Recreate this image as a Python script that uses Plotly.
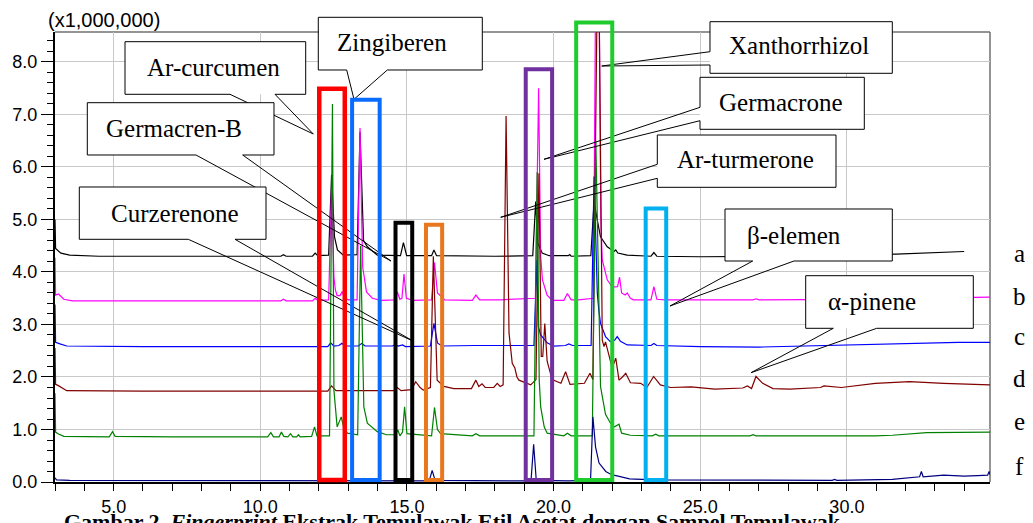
import plotly.graph_objects as go

# ---------------- data (retention time [min], intensity [x1,000,000]) ----------------
X_RANGE = [3.0, 34.88]
Y_RANGE = [0.0, 8.571]
X_TICKS = [5.0, 10.0, 15.0, 20.0, 25.0, 30.0]
Y_TICKS = [0.0, 1.0, 2.0, 3.0, 4.0, 5.0, 6.0, 7.0, 8.0]

TRACE_NAMES = ["a", "b", "c", "d", "e", "f"]
TRACE_COLORS = ["#000000", "#ff00ff", "#0000ff", "#800000", "#008000", "#000080"]

A_POINTS = [(3.0, 5.0), (3.02, 4.45), (3.2, 4.36), (3.5, 4.32), (4.5, 4.30), (7.0, 4.30), (10.0, 4.30),
            (10.7, 4.30), (10.79, 4.33), (10.88, 4.30), (11.78, 4.30), (11.87, 4.36), (11.96, 4.31),
            (12.33, 4.32), (12.43, 5.85), (12.53, 4.67), (12.63, 4.42), (12.83, 4.32), (13.3, 4.33),
            (13.40, 6.67), (13.52, 4.6), (13.65, 4.48), (13.99, 4.32), (14.78, 4.31), (14.88, 4.56),
            (14.99, 4.31), (15.84, 4.31), (15.92, 4.42), (16.01, 4.31), (17.0, 4.30), (18.0, 4.30),
            (19.29, 4.31), (19.39, 5.34), (19.46, 4.55), (19.61, 4.36), (19.85, 4.31), (20.5, 4.31),
            (20.55, 4.33), (20.6, 4.30), (21.27, 4.31), (21.38, 5.34), (21.49, 4.99), (21.60, 4.67),
            (21.83, 4.48), (22.06, 4.39), (22.12, 4.42), (22.19, 4.36), (22.51, 4.32), (23.32, 4.30),
            (23.42, 4.37), (23.52, 4.30), (25.0, 4.29), (28.0, 4.30), (31.68, 4.34), (34.0, 4.39)]

B_POINTS = [(3.0, 4.27), (3.02, 3.56), (3.12, 3.58), (3.3, 3.48), (3.6, 3.45), (6.0, 3.45), (9.0, 3.45),
            (10.7, 3.45), (10.79, 3.48), (10.88, 3.45), (11.78, 3.45), (11.87, 3.50), (11.96, 3.46),
            (12.33, 3.47), (12.43, 5.6), (12.51, 3.9), (12.56, 3.66), (12.62, 3.55), (12.72, 3.55),
            (12.79, 3.63), (12.87, 3.5), (13.02, 3.47), (13.3, 3.47), (13.40, 6.74), (13.49, 4.1),
            (13.62, 3.62), (13.82, 3.5), (14.11, 3.46), (14.58, 3.47), (14.67, 3.62), (14.76, 3.48),
            (14.83, 3.5), (14.90, 3.96), (14.98, 3.5), (15.2, 3.46), (15.84, 3.47), (15.94, 4.18),
            (16.04, 3.6), (16.29, 3.47), (17.23, 3.46), (17.35, 3.56), (17.48, 3.47), (18.17, 3.47),
            (19.38, 3.5), (19.49, 7.5), (19.56, 4.3), (19.62, 3.85), (19.78, 3.56), (19.95, 3.46),
            (20.35, 3.46), (20.47, 3.59), (20.6, 3.47), (20.85, 3.47), (21.36, 3.5), (21.49, 14.0),
            (21.61, 5.0), (21.66, 4.23), (21.83, 3.85), (22.0, 3.71), (22.18, 3.72), (22.25, 3.90),
            (22.32, 3.6), (22.44, 3.56), (22.51, 3.6), (22.62, 3.5), (22.72, 3.47), (23.32, 3.47),
            (23.42, 3.72), (23.52, 3.48), (23.81, 3.47), (26.8, 3.47), (26.9, 3.49), (27.0, 3.47),
            (30.0, 3.48), (34.88, 3.52)]

C_POINTS = [(3.0, 3.38), (3.02, 2.66), (3.17, 2.63), (3.4, 2.59), (6.0, 2.58), (10.0, 2.58), (12.3, 2.58),
            (12.40, 2.65), (12.51, 2.59), (12.68, 2.6), (12.78, 2.64), (12.88, 2.59), (13.34, 2.59),
            (13.46, 2.64), (13.57, 2.59), (14.5, 2.59), (14.6, 2.61), (14.7, 2.59), (14.85, 2.61),
            (14.95, 2.58), (15.8, 2.59), (15.92, 3.02), (16.04, 2.65), (16.19, 2.59), (17.33, 2.6),
            (19.33, 2.6), (19.43, 4.23), (19.48, 2.96), (19.56, 2.8), (19.78, 2.65), (20.0, 2.59),
            (20.4, 2.6), (20.52, 2.63), (20.65, 2.6), (21.28, 2.6), (21.38, 5.82), (21.49, 3.6),
            (21.54, 3.28), (21.60, 3.02), (21.77, 2.77), (21.94, 2.67), (22.08, 2.7), (22.17, 2.77),
            (22.28, 2.68), (22.51, 2.61), (23.32, 2.6), (23.42, 2.64), (23.52, 2.6), (25.0, 2.58),
            (27.0, 2.57), (30.2, 2.61), (32.0, 2.64), (33.8, 2.66), (34.88, 2.66)]

D_POINTS = [(3.0, 2.55), (3.02, 1.86), (3.1, 1.84), (3.4, 1.74), (6.0, 1.73), (10.0, 1.73), (12.3, 1.73),
            (12.43, 1.83), (12.58, 1.74), (14.56, 1.74), (14.67, 1.80), (14.8, 1.74), (15.15, 1.76),
            (15.30, 1.91), (15.45, 1.80), (15.56, 1.75), (15.8, 1.8), (15.9, 4.3), (16.03, 1.94),
            (16.26, 1.82), (16.6, 1.78), (17.2, 1.78), (17.35, 1.94), (17.45, 1.82), (17.56, 1.87),
            (17.67, 1.8), (17.96, 1.8), (18.08, 1.88), (18.18, 1.82), (18.28, 1.85), (18.38, 6.97),
            (18.48, 2.84), (18.59, 2.26), (18.68, 2.17), (18.75, 2.0), (18.82, 1.94), (19.22, 1.85),
            (19.4, 1.95), (19.5, 5.88), (19.58, 2.39), (19.63, 2.39), (19.7, 3.02), (19.78, 2.3),
            (19.95, 1.95), (20.25, 1.88), (20.41, 2.1), (20.56, 1.86), (21.05, 1.88), (21.24, 2.07),
            (21.34, 1.95), (21.52, 11.0), (21.66, 2.7), (21.72, 2.58), (21.77, 2.67), (21.89, 2.39),
            (22.0, 2.17), (22.12, 2.36), (22.23, 1.94), (22.35, 2.0), (22.46, 2.07), (22.62, 1.89),
            (22.97, 1.88), (23.18, 1.8), (23.41, 2.01), (23.64, 1.85), (23.99, 1.80), (24.69, 1.81),
            (25.5, 1.77), (26.45, 1.79), (26.61, 1.83), (26.75, 1.78), (26.9, 2.01), (27.13, 1.88),
            (27.48, 1.78), (28.06, 1.77), (29.1, 1.8), (29.22, 1.83), (29.81, 1.80), (30.97, 1.88),
            (32.14, 1.91), (33.3, 1.88), (34.88, 1.85)]

E_POINTS = [(3.0, 1.69), (3.02, 0.95), (3.1, 0.92), (3.3, 0.87), (4.85, 0.86), (4.96, 0.96), (5.05, 0.87),
            (7.0, 0.86), (10.25, 0.86), (10.36, 0.94), (10.45, 0.86), (10.64, 0.86), (10.72, 0.95),
            (10.8, 0.87), (10.94, 0.86), (11.03, 0.92), (11.11, 0.86), (11.24, 0.86), (11.30, 0.9),
            (11.36, 0.86), (11.75, 0.87), (11.85, 1.05), (11.93, 0.88), (12.36, 0.88), (12.46, 7.2),
            (12.51, 1.75), (12.56, 1.43), (12.62, 1.05), (12.76, 1.24), (12.85, 1.02), (12.97, 0.93),
            (13.32, 0.9), (13.42, 4.5), (13.53, 1.43), (13.65, 1.12), (13.99, 0.96), (14.3, 0.9),
            (14.6, 0.9), (14.69, 0.99), (14.76, 0.88), (14.85, 0.95), (14.92, 1.43), (15.0, 0.92),
            (15.84, 0.88), (15.94, 1.42), (16.04, 1.0), (16.15, 0.92), (17.23, 0.88), (17.35, 0.92),
            (17.48, 0.88), (19.33, 0.88), (19.44, 5.9), (19.51, 1.94), (19.56, 1.43), (19.68, 1.05),
            (19.78, 0.93), (20.35, 0.88), (20.47, 0.93), (20.6, 0.88), (21.32, 0.88), (21.44, 6.5),
            (21.60, 1.82), (21.77, 1.29), (21.94, 1.12), (22.08, 1.05), (22.23, 1.10), (22.32, 0.93),
            (22.62, 0.89), (23.37, 0.88), (23.48, 0.91), (23.59, 0.88), (26.7, 0.88), (26.8, 0.9),
            (26.9, 0.88), (30.97, 0.88), (31.55, 0.89), (32.72, 0.94), (33.89, 0.94), (34.88, 0.95)]

F_POINTS = [(3.0, 0.08), (3.05, 0.04), (3.5, 0.03), (10.0, 0.02), (15.76, 0.02), (15.86, 0.22),
            (15.96, 0.03), (19.23, 0.02), (19.32, 0.72), (19.41, 0.03), (20.5, 0.02), (21.26, 0.03),
            (21.34, 1.24), (21.43, 0.67), (21.55, 0.36), (21.78, 0.2), (22.01, 0.13), (22.13, 0.12),
            (22.59, 0.06), (23.41, 0.04), (26.0, 0.03), (29.5, 0.03), (29.58, 0.05), (29.66, 0.03),
            (31.55, 0.05), (32.14, 0.09), (32.48, 0.1), (32.54, 0.2), (32.6, 0.1), (33.3, 0.13),
            (34.0, 0.11), (34.46, 0.12), (34.8, 0.13), (34.85, 0.2), (34.88, 0.14)]

ALL_POINTS = [A_POINTS, B_POINTS, C_POINTS, D_POINTS, E_POINTS, F_POINTS]

# highlighted retention windows: (t_start, t_end, top intensity, colour)
WINDOWS = [(12.01, 12.88, 7.49, "#ff0000"),
           (13.13, 14.07, 7.28, "#0a6cff"),
           (14.61, 15.18, 4.94, "#000000"),
           (15.65, 16.20, 4.90, "#e8771e"),
           (19.05, 19.95, 7.86, "#7030a0"),
           (20.77, 22.00, 8.75, "#1fcc2e"),
           (23.14, 23.84, 5.21, "#00b0f0")]
WINDOW_BOTTOM = 0.04

# callouts (page pixels): label, box (L, T, R, B), wedge side, wedge bases, tip, text centre
CALLOUTS = [
    ("Ar-curcumen", (125, 41.7, 305.7, 94.3), "bottom", (230, 275), (313.3, 134), (213, 68)),
    ("Zingiberen", (318.3, 17.3, 482.3, 70), "bottom", (346.7, 387.3), (354, 99.3), (392, 42)),
    ("Germacren-B", (87.3, 102.7, 274, 155), "bottom", (196, 242.7), (391, 261), (174, 128)),
    ("Curzerenone", (79.3, 187, 266, 239.3), "bottom", (188.3, 235), (413, 341), (175, 213)),
    ("Xanthorrhizol", (710, 21.7, 892.3, 73.3), "left", (51.7, 65), (601.7, 66), (799, 46)),
    ("Germacrone", (700, 77.3, 864.3, 129.3), "left", (107.3, 120.7), (544, 159.3), (781, 102)),
    ("Ar-turmerone", (657.3, 135, 836, 187.3), "left", (164.3, 178.3), (500.7, 217.3), (745, 159)),
    ("β-elemen", (725, 209, 892.3, 261), "bottom", (752.7, 794), (670, 306), (794, 235)),
    ("α-pinene", (805.7, 275.7, 973.3, 328.3), "bottom", (833.3, 876.7), (751, 372.7), (872, 301)),
]

LABEL_Y = [254, 296, 336, 378, 421, 466]
CAPTION = "<b>Gambar 2. <i>Fingerprint</i> Ekstrak Temulawak Etil Asetat dengan Sampel Temulawak</b>"

# ---------------- layout geometry (page pixels; the page body adds an 8 px offset) ----------------
PAGE_W, PAGE_H, OFF = 1033, 523, 8
W, H = PAGE_W - OFF, PAGE_H - OFF
PL, PR, PT, PB = 55, 990, 32, 482


def px2x(px):
    return (px - PL) / (PR - PL)


def py2y(py):
    return (PB - py) / (PB - PT)


fig = go.Figure()
for pts, color, name in zip(ALL_POINTS, TRACE_COLORS, TRACE_NAMES):
    fig.add_trace(go.Scatter(x=[p[0] for p in pts], y=[p[1] for p in pts], mode="lines", name=name,
                             line=dict(color=color, width=1.2), hoverinfo="skip", showlegend=False))

shapes = []
shapes.append(dict(type="line", xref="paper", yref="paper", x0=0, x1=1, y0=1, y1=1,
                   line=dict(color="#707070", width=1.5), layer="below"))
shapes.append(dict(type="line", xref="paper", yref="paper", x0=1, x1=1, y0=0, y1=1,
                   line=dict(color="#707070", width=1.5), layer="below"))

for label, (L, T, R, B), side, bases, tip, _ in CALLOUTS:
    shapes.append(dict(type="rect", xref="paper", yref="paper", x0=px2x(L), x1=px2x(R),
                       y0=py2y(B), y1=py2y(T), fillcolor="white", line=dict(width=0), layer="above"))
    if side == "bottom":
        pts = [(L, T), (R, T), (R, B), (bases[1], B), tip, (bases[0], B), (L, B), (L, T)]
    else:
        pts = [(L, T), (R, T), (R, B), (L, B), (L, bases[1]), tip, (L, bases[0]), (L, T)]
    path = "M " + " L ".join(f"{px2x(a):.5f},{py2y(b):.5f}" for a, b in pts)
    shapes.append(dict(type="path", xref="paper", yref="paper", path=path,
                       line=dict(color="black", width=1), fillcolor="rgba(0,0,0,0)", layer="above"))

for t0, t1, top, color in WINDOWS:
    shapes.append(dict(type="rect", xref="x", yref="paper", x0=t0, x1=t1,
                       y0=WINDOW_BOTTOM / Y_RANGE[1], y1=top / Y_RANGE[1],
                       line=dict(color=color, width=4.5 if color == "#ff0000" else 4),
                       fillcolor="rgba(0,0,0,0)", layer="above"))

serif = "Liberation Serif, Times New Roman, serif"
annotations = []
for label, _, _, _, _, (cx, cy) in CALLOUTS:
    annotations.append(dict(text=label, xref="paper", yref="paper", x=px2x(cx), y=py2y(cy),
                            xanchor="center", yanchor="middle", showarrow=False,
                            font=dict(family=serif, size=25, color="black")))
for name, ly in zip(TRACE_NAMES, LABEL_Y):
    annotations.append(dict(text=name, xref="paper", yref="paper", x=px2x(1019), y=py2y(ly),
                            xanchor="center", yanchor="middle", showarrow=False,
                            font=dict(family=serif, size=25, color="black")))
annotations.append(dict(text="(x1,000,000)", xref="paper", yref="paper", x=px2x(103.5), y=py2y(20),
                        xanchor="center", yanchor="middle", showarrow=False,
                        font=dict(family="Liberation Sans, Arial, sans-serif", size=20, color="black")))
annotations.append(dict(text=CAPTION, xref="paper", yref="paper", x=px2x(62), y=py2y(507),
                        xanchor="left", yanchor="top", showarrow=False,
                        font=dict(family=serif, size=22, color="black")))

fig.update_layout(width=W, height=H, margin=dict(l=PL - OFF, r=PAGE_W - PR, t=PT - OFF, b=PAGE_H - PB),
                  paper_bgcolor="white", plot_bgcolor="white", showlegend=False,
                  shapes=shapes, annotations=annotations)

tickfont = dict(family="Liberation Sans, Arial, sans-serif", size=18, color="black")
fig.update_xaxes(range=X_RANGE, tickmode="array", tickvals=X_TICKS, ticktext=[f"{v:.1f}" for v in X_TICKS],
                 ticks="outside", ticklen=7, tickwidth=1, tickcolor="black", tickfont=tickfont,
                 ticklabelstandoff=0, automargin=False,
                 showgrid=True, gridcolor="#c8c8c8", gridwidth=1, zeroline=False,
                 showline=True, linecolor="black", linewidth=2,
                 minor=dict(tickmode="linear", tick0=0, dtick=1, ticks="outside", ticklen=7,
                            tickcolor="black", tickwidth=1, showgrid=False))
fig.update_yaxes(range=Y_RANGE, tickmode="array", tickvals=Y_TICKS, ticktext=[f"{v:.1f}" for v in Y_TICKS],
                 ticks="outside", ticklen=12, tickwidth=1, tickcolor="black", tickfont=tickfont,
                 automargin=False,
                 showgrid=True, gridcolor="#c8c8c8", gridwidth=1, zeroline=False,
                 showline=True, linecolor="black", linewidth=2,
                 minor=dict(tickmode="linear", tick0=0, dtick=0.2, ticks="outside", ticklen=6,
                            tickcolor="black", tickwidth=1, showgrid=False))

fig.write_html("out.html")
